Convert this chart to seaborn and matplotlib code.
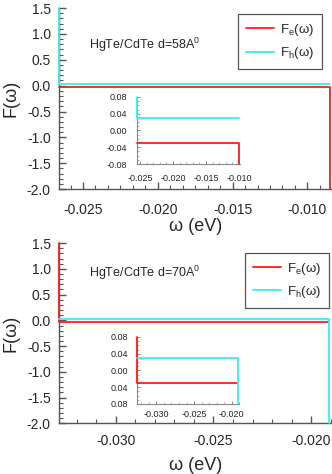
import seaborn as sns
import numpy as np
import matplotlib
matplotlib.use("Agg")
import matplotlib.pyplot as plt
from matplotlib.ticker import MultipleLocator, AutoMinorLocator, FormatStrFormatter, FixedLocator, FixedFormatter

# d = 58 A, main panel
w58_e = [-0.0266, -0.00848, -0.00848]
f58_e = [-0.03, -0.03, -2.0]
w58_h = [-0.0266, -0.0266, -0.00848]
f58_h = [1.5, 0.03, 0.03]
# d = 58 A, inset
w58_e_in = [-0.0255, -0.0100, -0.0100]
f58_e_in = [-0.03, -0.03, -0.08]
w58_h_in = [-0.0255, -0.0255, -0.0100]
f58_h_in = [0.08, 0.03, 0.03]

# d = 70 A, main panel
w70_e = [-0.0329, -0.0329, -0.0191]
f70_e = [1.5, -0.03, -0.03]
w70_h = [-0.0329, -0.0191, -0.0191]
f70_h = [0.03, 0.03, -2.0]
# d = 70 A, inset
w70_e_in = [-0.0325, -0.0325, -0.0192]
f70_e_in = [0.08, -0.03, -0.03]
w70_h_in = [-0.0325, -0.0192, -0.0192]
f70_h_in = [0.03, 0.03, -0.08]

inset_yticks = [-0.08, -0.04, 0.0, 0.04, 0.08]
inset70_ylabels = ['0.08', '0.04', '0.00', '0.04', '0.08']

RED = '#ff1a1a'
CYAN = '#33f0f0'
GREY = '#555555'

sns.set_style("ticks")
plt.rcParams['font.family'] = ['Liberation Sans', 'DejaVu Sans']
plt.rcParams['mathtext.fontset'] = 'custom'
plt.rcParams['mathtext.rm'] = 'Liberation Sans'
plt.rcParams['mathtext.it'] = 'Liberation Sans'
plt.rcParams['axes.unicode_minus'] = False

fig = plt.figure(figsize=(3.32, 4.74), dpi=100)


def style_main(ax, xlim, xpad, xlabelpad):
    ax.set_xlim(*xlim)
    ax.set_ylim(-2.0, 1.5)
    for s in ['top', 'right']:
        ax.spines[s].set_visible(False)
    for s in ['left', 'bottom']:
        ax.spines[s].set_color(GREY)
        ax.spines[s].set_linewidth(1.0)
    ax.xaxis.set_major_locator(MultipleLocator(0.005))
    ax.xaxis.set_major_formatter(FormatStrFormatter('%.3f'))
    ax.yaxis.set_major_locator(MultipleLocator(0.5))
    ax.yaxis.set_major_formatter(FormatStrFormatter('%.1f'))
    ax.yaxis.set_minor_locator(AutoMinorLocator(5))
    ax.tick_params(which='both', direction='in', color=GREY, labelsize=10)
    ax.tick_params(which='major', length=5, width=1)
    ax.tick_params(which='minor', length=3, width=0.8)
    ax.tick_params(axis='x', pad=xpad)
    ax.tick_params(axis='y', pad=6)
    ax.set_xlabel('ω (eV)', fontsize=13, labelpad=xlabelpad)
    ax.set_ylabel('F(ω)', fontsize=13, labelpad=5)


def style_inset(ax, xlim, xpad):
    ax.set_xlim(*xlim)
    ax.set_ylim(-0.08, 0.08)
    ax.patch.set_alpha(0)
    for s in ['top', 'right']:
        ax.spines[s].set_visible(False)
    for s in ['left', 'bottom']:
        ax.spines[s].set_color('#888888')
        ax.spines[s].set_linewidth(0.8)
    ax.xaxis.set_major_locator(MultipleLocator(0.005))
    ax.xaxis.set_major_formatter(FormatStrFormatter('%.3f'))
    ax.xaxis.set_minor_locator(AutoMinorLocator(5))
    ax.yaxis.set_major_locator(FixedLocator(inset_yticks))
    ax.yaxis.set_major_formatter(FormatStrFormatter('%.2f'))
    ax.yaxis.set_minor_locator(AutoMinorLocator(4))
    ax.tick_params(which='both', direction='in', color='#888888', labelsize=6.5)
    ax.tick_params(which='major', length=2.5, width=0.7)
    ax.tick_params(which='minor', length=1.5, width=0.5)
    ax.tick_params(axis='x', pad=xpad)
    ax.tick_params(axis='y', pad=7)
    ax.set_xlabel('')
    ax.set_ylabel('')


def draw(ax, we, fe, wh, fh, legend=False):
    sns.lineplot(x=we, y=fe, sort=False, estimator=None, color=RED, linewidth=1.3,
                 label=r'F$_{\rm e}$(ω)' if legend else None, ax=ax,
                 zorder=3, clip_on=False)
    sns.lineplot(x=wh, y=fh, sort=False, estimator=None, color=CYAN, linewidth=1.3,
                 label=r'F$_{\rm h}$(ω)' if legend else None, ax=ax,
                 zorder=3, clip_on=False)


def add_legend(ax, anchor):
    leg = ax.legend(loc='upper left', bbox_to_anchor=anchor, borderaxespad=0,
                    fontsize=9.5, frameon=True, fancybox=False, framealpha=1,
                    edgecolor=GREY, handlelength=2.1, handletextpad=0.5,
                    labelspacing=0.55, borderpad=0.6)
    leg.get_frame().set_linewidth(0.9)
    leg.set_zorder(5)
    return leg


# ---- top panel, d = 58 A ----
ax1 = fig.add_axes([0.178, 0.601, 0.821, 0.382])
draw(ax1, w58_e, f58_e, w58_h, f58_h, legend=True)
style_main(ax1, (-0.0266, -0.00838), 10, 1)
ax1.xaxis.set_minor_locator(AutoMinorLocator(6))
ax1.text(0.11, 0.796, r'HgTe/CdTe d=58A$^{0}$', transform=ax1.transAxes,
         fontsize=9, va='center', ha='left')
add_legend(ax1, (0.657, 0.967))

ins1 = fig.add_axes([0.413, 0.654, 0.310, 0.1414])
draw(ins1, w58_e_in, f58_e_in, w58_h_in, f58_h_in)
style_inset(ins1, (-0.02545, -0.00985), 7)

# ---- bottom panel, d = 70 A ----
ax2 = fig.add_axes([0.178, 0.107, 0.821, 0.380])
draw(ax2, w70_e, f70_e, w70_h, f70_h, legend=True)
style_main(ax2, (-0.0329, -0.01895), 8, 6)
ax2.xaxis.set_minor_locator(AutoMinorLocator(5))
ax2.text(0.11, 0.833, r'HgTe/CdTe d=70A$^{0}$', transform=ax2.transAxes,
         fontsize=9, va='center', ha='left')
add_legend(ax2, (0.683, 0.946))

ins2 = fig.add_axes([0.414, 0.1477, 0.307, 0.1414])
draw(ins2, w70_e_in, f70_e_in, w70_h_in, f70_h_in)
style_inset(ins2, (-0.0325, -0.0190), 4.5)
ins2.yaxis.set_major_formatter(FixedFormatter(inset70_ylabels))

fig.savefig('out.png', dpi=100)
